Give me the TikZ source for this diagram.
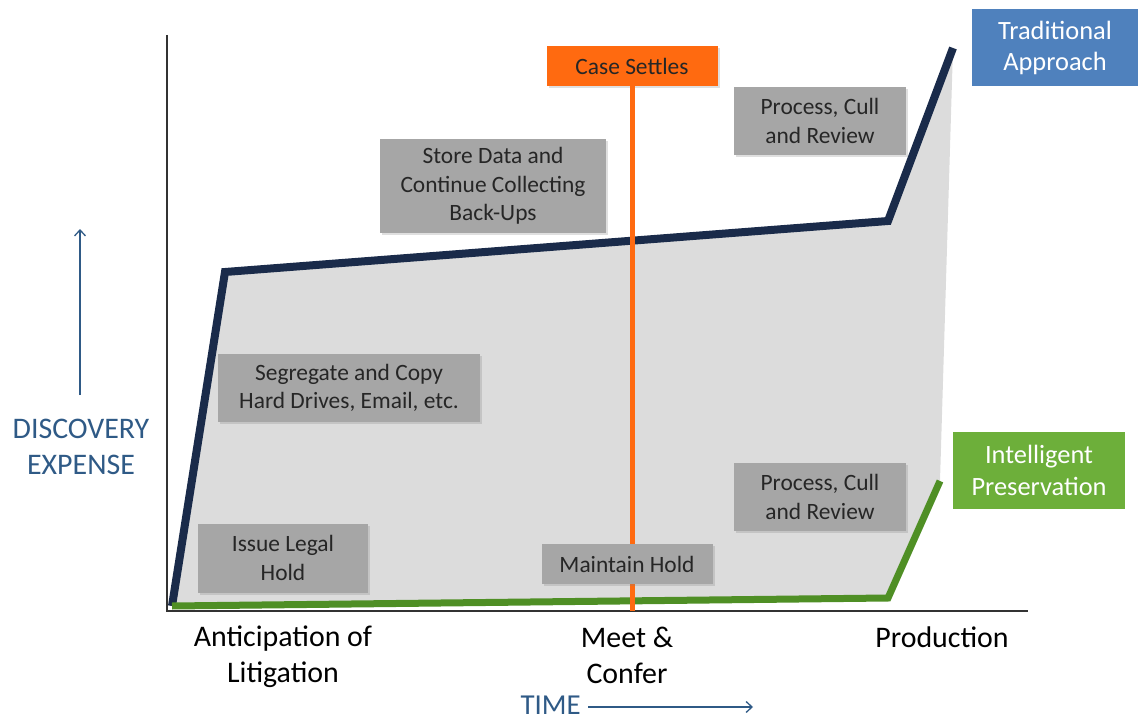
\documentclass[tikz,border=0pt]{standalone}
\usepackage{fontspec}
\setmainfont{Carlito}
\usetikzlibrary{shadows,arrows.meta}
\definecolor{navy}{HTML}{1A2B4A}
\definecolor{grn}{HTML}{4F8F25}
\definecolor{orng}{HTML}{FF6A10}
\definecolor{boxgray}{HTML}{A6A6A6}
\definecolor{fillgray}{HTML}{DCDCDC}
\definecolor{tradblue}{HTML}{4F81BD}
\definecolor{ipgreen}{HTML}{6DAF3A}
\definecolor{axisblue}{HTML}{2F5A86}
\tikzset{
  stepbox/.style={fill=boxgray, inner sep=0pt, align=center, font=\fontsize{23.5}{28.5}\selectfont, text=black!85,
    drop shadow={opacity=0.25, shadow xshift=2bp, shadow yshift=-2bp}},
  tagbox/.style={inner sep=0pt, align=center, text=white, font=\fontsize{26.5}{32}\selectfont},
  phase/.style={align=center, font=\fontsize{30}{36}\selectfont, text=black},
  axislbl/.style={align=center, font=\fontsize{30}{36}\selectfont, text=axisblue},
  timelbl/.style={font=\fontsize{29}{29}\selectfont, text=axisblue, inner sep=0pt},
}
\begin{document}
\begin{tikzpicture}[x=1bp,y=-1bp]
\useasboundingbox (0,0) rectangle (1138,723);
% coordinates
\coordinate (o) at (172,606);
\coordinate (t1) at (225,272);
\coordinate (t2) at (888,221);
\coordinate (t3) at (953,48);
\coordinate (g1) at (888,598);
\coordinate (g2) at (940,481);
% shaded area
\fill[fillgray] (o) -- (t1) -- (t2) -- (t3) -- (g2) -- (g1) -- cycle;
% axes
\coordinate (ytop) at (167,35);
\coordinate (yo) at (167,611);
\coordinate (xend) at (1028,611);
\draw[black!80, line width=1.2bp] (ytop) -- (yo) -- (xend);
% lines
\draw[navy, line width=8bp, line join=miter] (o) -- (t1) -- (t2) -- (t3);
\draw[grn, line width=7bp] (o) -- (g1) -- (g2);
\node[fill=orng, minimum width=171bp, minimum height=40bp, inner sep=0pt, font=\fontsize{23.5}{28}\selectfont, text=black!85,
  drop shadow={opacity=0.25, shadow xshift=2bp, shadow yshift=-2bp}] (settle) at (632,66) {Case Settles};
\coordinate (osb) at (632,611);
\draw[orng, line width=5bp] (settle.south -| osb) -- (osb);
% boxes
\node[stepbox, minimum width=226bp, minimum height=94bp] (store) at (493,186) {Store Data and\\Continue Collecting\\Back-Ups};
\node[stepbox, minimum width=172bp, minimum height=68bp] (pcr1) at (820,121) {Process, Cull\\and Review};
\node[stepbox, minimum width=262bp, minimum height=68bp] (seg) at (349,388) {Segregate and Copy\\Hard Drives, Email, etc.};
\node[stepbox, minimum width=172bp, minimum height=68bp] (pcr2) at (820,497) {Process, Cull\\and Review};
\node[stepbox, minimum width=170bp, minimum height=69bp] (issue) at (283,558) {Issue Legal\\Hold};
\node[stepbox, minimum width=171bp, minimum height=40bp] (maint) at (627,564) {Maintain Hold};
% tags
\node[tagbox, fill=tradblue, minimum width=166bp, minimum height=77bp] (trad) at (1055,48) {Traditional\\Approach};
\node[tagbox, fill=ipgreen, minimum width=172bp, minimum height=77bp] (ip) at (1039,470) {Intelligent\\Preservation};
% phase labels
\node[phase] (ant) at (283,657) {Anticipation of\\Litigation};
\node[phase] (meet) at (627,655) {Meet \&\\Confer};
\node[phase] (prod) at (942,637) {Production};
% axis labels
\node[axislbl] (disc) at (81,447) {DISCOVERY\\EXPENSE};
\coordinate (ua) at (80,395);
\coordinate (ub) at (80,229);
\draw[axisblue, line width=1.3bp, -{Straight Barb[length=6bp,width=11bp]}] (ua) -- (ub);
\node[timelbl, anchor=base east] (time) at (581,714) {TIME};
\coordinate (ta) at (588,707);
\coordinate (tb) at (753,707);
\draw[axisblue, line width=1.3bp, -{Straight Barb[length=6bp,width=11bp]}] (ta) -- (tb);
\end{tikzpicture}
\end{document}
